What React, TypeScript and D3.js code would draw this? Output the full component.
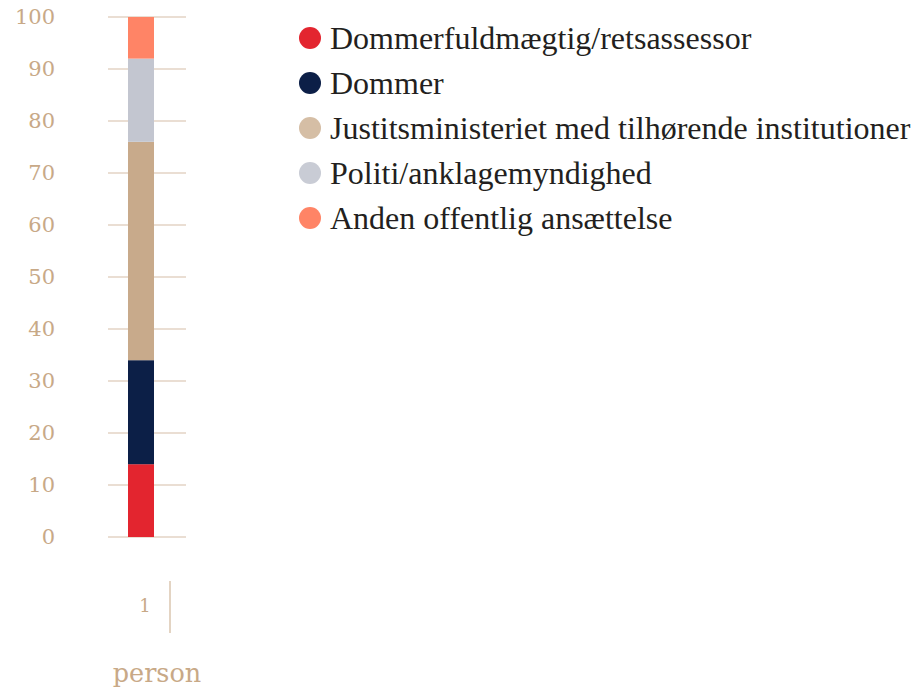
import React, { useEffect, useRef } from 'react';
import * as d3 from 'd3';

// Data
const categories = ['1'];
const seriesNames = [
  'Dommerfuldmægtig/retsassessor',
  'Dommer',
  'Justitsministeriet med tilhørende institutioner',
  'Politi/anklagemyndighed',
  'Anden offentlig ansættelse',
];
const seriesValues = [14, 20, 42, 16, 8];
const colors = ['#e3252f', '#0c1f47', '#c8aa8b', '#c3c6d0', '#ff8466'];
const legendColors = ['#e3252f', '#0c1f47', '#d5bea5', '#c9ccd5', '#ff8466'];
const yTicks = [0, 10, 20, 30, 40, 50, 60, 70, 80, 90, 100];
const xTitle = 'person';

const App = () => {
  const ref = useRef<SVGSVGElement>(null);

  useEffect(() => {
    const width = 921;
    const height = 689;
    const svg = d3.select(ref.current)
      .attr('width', width)
      .attr('height', height);
    svg.selectAll('*').remove();

    const axisColor = '#c8a987';
    const gridColor = '#e3d3c4';
    const font = "'DejaVu Serif', 'Liberation Serif', serif";
    const legendFont = "'Liberation Serif', 'DejaVu Serif', serif";

    const y = d3.scaleLinear().domain([0, 100]).range([537, 17]);
    const x = d3.scaleBand().domain(categories).range([128, 154]).padding(0);

    // gridlines
    svg.append('g')
      .selectAll('line')
      .data(yTicks)
      .enter()
      .append('line')
      .attr('x1', 108)
      .attr('x2', 186)
      .attr('y1', d => y(d))
      .attr('y2', d => y(d))
      .attr('stroke', gridColor)
      .attr('stroke-width', 1.5);

    // tick labels
    svg.append('g')
      .selectAll('text')
      .data(yTicks)
      .enter()
      .append('text')
      .attr('x', 55)
      .attr('y', d => y(d))
      .attr('dy', '0.35em')
      .attr('text-anchor', 'end')
      .attr('fill', axisColor)
      .attr('font-family', font)
      .attr('font-size', 21)
      .text(d => d);

    // stacked bar
    const row: any = { cat: categories[0] };
    seriesNames.forEach((n, i) => { row[n] = seriesValues[i]; });
    const stack = d3.stack<any>().keys(seriesNames)([row]);

    svg.append('g')
      .selectAll('rect')
      .data(stack)
      .enter()
      .append('rect')
      .attr('x', x(categories[0]) as number)
      .attr('width', x.bandwidth())
      .attr('y', d => y(d[0][1]))
      .attr('height', d => y(d[0][0]) - y(d[0][1]))
      .attr('fill', (d, i) => colors[i]);

    // category label and separator
    svg.append('text')
      .attr('x', 145)
      .attr('y', 606)
      .attr('dy', '0.35em')
      .attr('text-anchor', 'middle')
      .attr('fill', axisColor)
      .attr('font-family', font)
      .attr('font-size', 18)
      .text(categories[0]);

    svg.append('line')
      .attr('x1', 170)
      .attr('x2', 170)
      .attr('y1', 581)
      .attr('y2', 633)
      .attr('stroke', axisColor)
      .attr('stroke-width', 1);

    svg.append('text')
      .attr('x', 157)
      .attr('y', 673)
      .attr('dy', '0.35em')
      .attr('text-anchor', 'middle')
      .attr('fill', axisColor)
      .attr('font-family', font)
      .attr('font-size', 25.5)
      .text(xTitle);

    // legend
    const legend = svg.append('g')
      .selectAll('g')
      .data(seriesNames)
      .enter()
      .append('g')
      .attr('transform', (d, i) => `translate(310, ${38 + i * 45})`);

    legend.append('circle')
      .attr('r', 11)
      .attr('fill', (d, i) => legendColors[i]);

    legend.append('text')
      .attr('x', 20)
      .attr('dy', '0.33em')
      .attr('fill', '#231f20')
      .attr('font-family', legendFont)
      .attr('font-size', 32)
      .text(d => d);
  }, []);

  return <svg ref={ref} style={{ position: 'absolute', left: 0, top: 0 }}></svg>;
};

export default App;
